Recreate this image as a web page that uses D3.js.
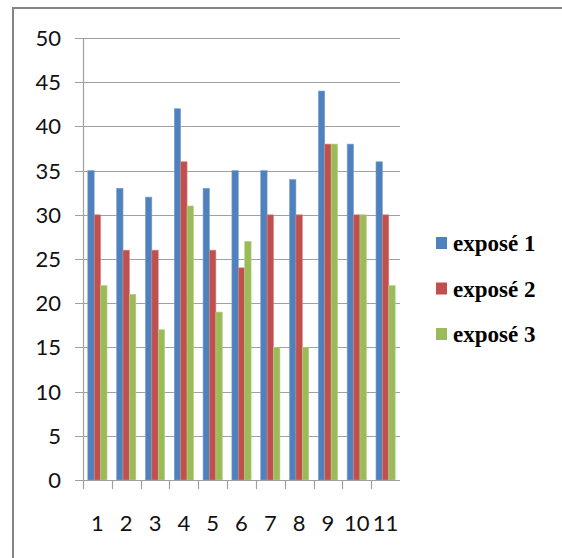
<!DOCTYPE html>
<html>
<head>
<meta charset="utf-8">
<script src="https://cdn.jsdelivr.net/npm/d3@7"></script>
<style>
  body { margin: 0; background: #fff; }
  .tick-label { font-family: Lato, "Open Sans", sans-serif; font-size: 22px; fill: #111; }
  .legend-label { font-family: "Liberation Serif", serif; font-weight: bold; font-size: 23px; fill: #000; }
</style>
</head>
<body>
<div id="chart"></div>
<script>
// chart data
const categories = ["1", "2", "3", "4", "5", "6", "7", "8", "9", "10", "11"];
const seriesNames = ["exposé 1", "exposé 2", "exposé 3"];
const expose1 = [35, 33, 32, 42, 33, 35, 35, 34, 44, 38, 36];
const expose2 = [30, 26, 26, 36, 26, 24, 30, 30, 38, 30, 30];
const expose3 = [22, 21, 17, 31, 19, 27, 15, 15, 38, 30, 22];
const yTicks = [0, 5, 10, 15, 20, 25, 30, 35, 40, 45, 50];

const colors = ["#4F81BD", "#C0504D", "#9BBB59"];
const edges = ["#7FA3D3", "#D98482", "#B8D08A"];

const width = 562, height = 558;
const plot = {left: 83, right: 400, top: 38, bottom: 480};

const svg = d3.select("#chart").append("svg")
    .attr("width", width)
    .attr("height", height);

// outer frame (runs off the right and bottom edge)
svg.append("rect")
    .attr("x", 13)
    .attr("y", 8)
    .attr("width", 600)
    .attr("height", 600)
    .attr("fill", "none")
    .attr("stroke", "#858585")
    .attr("stroke-width", 2);

const x = d3.scaleBand()
    .domain(categories)
    .range([plot.left, plot.right]);

const y = d3.scaleLinear()
    .domain([0, 50])
    .range([plot.bottom, plot.top]);

// bar width like Excel gap width 150%
const barW = x.bandwidth() / 4.5;
const xs = d3.scaleBand()
    .domain(seriesNames)
    .range([barW * 0.75, barW * 3.75]);

// gridlines + y tick marks
svg.append("g")
    .selectAll("line")
    .data(yTicks)
    .join("line")
    .attr("x1", plot.left - 8)
    .attr("x2", plot.right)
    .attr("y1", d => Math.round(y(d)) + 0.5)
    .attr("y2", d => Math.round(y(d)) + 0.5)
    .attr("stroke", "#a0a0a0")
    .attr("stroke-width", 1.2);

// y labels
svg.append("g")
    .selectAll("text")
    .data(yTicks)
    .join("text")
    .attr("class", "tick-label")
    .attr("x", 61)
    .attr("y", d => y(d))
    .attr("dy", "0.36em")
    .attr("text-anchor", "end")
    .text(d => d);

// y axis line
svg.append("line")
    .attr("x1", plot.left + 0.5)
    .attr("x2", plot.left + 0.5)
    .attr("y1", plot.top)
    .attr("y2", plot.bottom)
    .attr("stroke", "#a0a0a0")
    .attr("stroke-width", 1.2);

// bars
const series = [expose1, expose2, expose3];
series.forEach((vals, si) => {
    svg.append("g")
        .selectAll("rect")
        .data(vals)
        .join("rect")
        .attr("x", (d, i) => x(categories[i]) + xs(seriesNames[si]))
        .attr("y", d => y(d))
        .attr("width", xs.bandwidth())
        .attr("height", d => y(0) - y(d))
        .attr("fill", colors[si])
        .attr("stroke", edges[si])
        .attr("stroke-width", 0.6);
});

// x axis baseline + tick marks
svg.append("line")
    .attr("x1", plot.left - 8)
    .attr("x2", plot.right)
    .attr("y1", plot.bottom + 0.5)
    .attr("y2", plot.bottom + 0.5)
    .attr("stroke", "#a0a0a0")
    .attr("stroke-width", 1.2);

svg.append("g")
    .selectAll("line")
    .data(categories)
    .join("line")
    .attr("x1", d => Math.round(x(d)) + 0.5)
    .attr("x2", d => Math.round(x(d)) + 0.5)
    .attr("y1", plot.bottom)
    .attr("y2", plot.bottom + 9)
    .attr("stroke", "#a0a0a0")
    .attr("stroke-width", 1.2);

// x labels
svg.append("g")
    .selectAll("text")
    .data(categories)
    .join("text")
    .attr("class", "tick-label")
    .attr("x", d => x(d) + x.bandwidth() / 2)
    .attr("y", 531)
    .attr("text-anchor", "middle")
    .text(d => d);

// legend
const legend = svg.append("g")
    .attr("transform", "translate(436,237)");

const item = legend.selectAll("g")
    .data(seriesNames)
    .join("g")
    .attr("transform", (d, i) => `translate(0,${i * 45.5})`);

item.append("rect")
    .attr("width", 11)
    .attr("height", 12)
    .attr("fill", (d, i) => colors[i]);

item.append("text")
    .attr("class", "legend-label")
    .attr("x", 17)
    .attr("y", 6)
    .attr("dy", "0.35em")
    .text(d => d);
</script>
</body>
</html>
